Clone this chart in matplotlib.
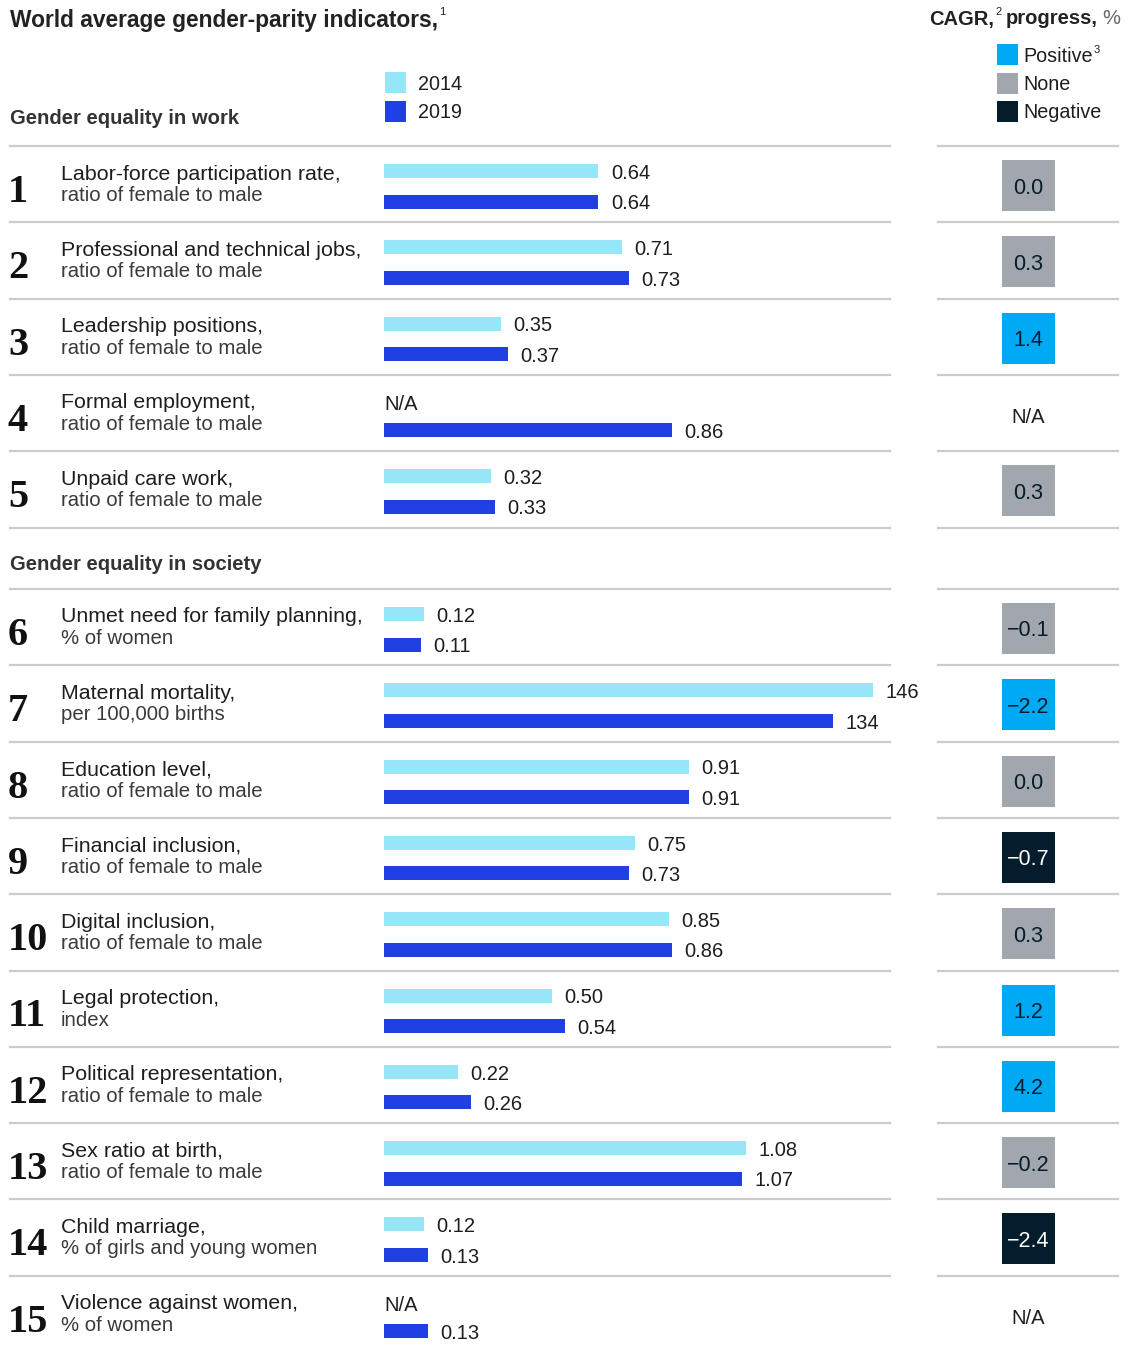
import matplotlib
matplotlib.use("Agg")
import matplotlib.pyplot as plt
from matplotlib.patches import Rectangle

# ---- data ----
titles = ["Labor-force participation rate,", "Professional and technical jobs,",
          "Leadership positions,", "Formal employment,", "Unpaid care work,",
          "Unmet need for family planning,", "Maternal mortality,", "Education level,",
          "Financial inclusion,", "Digital inclusion,", "Legal protection,",
          "Political representation,", "Sex ratio at birth,", "Child marriage,",
          "Violence against women,"]
units = ["ratio of female to male"] * 5 + ["% of women", "per 100,000 births"] + \
        ["ratio of female to male"] * 3 + ["index"] + ["ratio of female to male"] * 2 + \
        ["% of girls and young women", "% of women"]
v2014 = [0.64, 0.71, 0.35, None, 0.32, 0.12, 146, 0.91, 0.75, 0.85, 0.50, 0.22, 1.08, 0.12, None]
v2019 = [0.64, 0.73, 0.37, 0.86, 0.33, 0.11, 134, 0.91, 0.73, 0.86, 0.54, 0.26, 1.07, 0.13, 0.13]
# maternal mortality drawn per 100 births so it fits the shared scale
bar_scale = [1, 1, 1, 1, 1, 1, 0.01, 1, 1, 1, 1, 1, 1, 1, 1]
cagr = [0.0, 0.3, 1.4, None, 0.3, -0.1, -2.2, 0.0, -0.7, 0.3, 1.2, 4.2, -0.2, -2.4, None]
progress = ["None", "None", "Positive", None, "None", "None", "Positive", "None",
            "Negative", "None", "Positive", "Positive", "None", "Negative", None]
sections = ["Gender equality in work", "Gender equality in society"]

# ---- style ----
C14 = "#96E6F7"
C19 = "#2140E3"
PCOL = {"Positive": "#00A9F4", "None": "#A2A7AE", "Negative": "#051C2C"}
TXT = "#1E1E1E"
GRID = "#CCCCCC"
SANS = "Liberation Sans"
SERIF = "Liberation Serif"

W, H = 1130, 1346
fig = plt.figure(figsize=(W / 100, H / 100), dpi=100)
ov = fig.add_axes([0, 0, 1, 1])
ov.set_xlim(0, W)
ov.set_ylim(H, 0)
ov.axis("off")

bx = fig.add_axes([384 / W, 0, (890 - 384) / W, 1])
bx.set_xlim(0, 506 / 335)
bx.set_ylim(H, 0)
bx.axis("off")

pitch = 76.3
tops = [146 + pitch * i for i in range(5)] + [589 + pitch * i for i in range(10)]

def hline(y):
    ov.plot([10, 890], [y, y], color=GRID, lw=1.6)
    ov.plot([938, 1118], [y, y], color=GRID, lw=1.6)

def sup(artist, s, y):
    # small superscript placed right after a text artist
    return ov.annotate(s, xy=(1, y), xycoords=(artist, ov.transData), xytext=(1, 0),
                       textcoords="offset points", fontsize=8, family=SANS, color=TXT,
                       va="center", ha="left")

# header
t = ov.text(10, 20, "World average gender-parity indicators,", fontsize=16.4, fontweight="bold",
            family=SANS, color="#222222", va="center")
sup(t, "1", 12)

t = ov.text(929, 19, "CAGR,", fontsize=14.5, fontweight="bold", family=SANS,
            color="#222222", va="center")
s = sup(t, "2", 12)
t = ov.annotate("progress,", xy=(1, 19), xycoords=(s, ov.transData), xytext=(3, 0),
                textcoords="offset points", fontsize=14.5, fontweight="bold", family=SANS,
                color="#222222", va="center")
ov.annotate("%", xy=(1, 19), xycoords=(t, ov.transData), xytext=(3, 0),
            textcoords="offset points", fontsize=14.5, family=SANS, color="#666666", va="center")

for i, (lab, col) in enumerate(zip(["2014", "2019"], [C14, C19])):
    ov.add_patch(Rectangle((385, 72 + 28.5 * i), 21, 21, color=col, lw=0))
    ov.text(418, 84 + 28.5 * i, lab, fontsize=14.2, family=SANS, color=TXT, va="center")

for i, k in enumerate(["Positive", "None", "Negative"]):
    ov.add_patch(Rectangle((997, 44 + 28.5 * i), 21, 21, color=PCOL[k], lw=0))
    t = ov.text(1023, 56 + 28.5 * i, k, fontsize=14.2, family=SANS, color=TXT, va="center")
    if k == "Positive":
        sup(t, "3", 50)

ov.text(10, 118, sections[0], fontsize=14.6, fontweight="bold", family=SANS, color="#333333", va="center")
ov.text(10, 564, sections[1], fontsize=14.6, fontweight="bold", family=SANS, color="#333333", va="center")

for t in tops:
    hline(t)
hline(tops[4] + pitch)

for i, t in enumerate(tops):
    ov.text(8, t + 56, str(i + 1), fontsize=29, fontweight="bold", family=SERIF,
            color="#111111", va="baseline")
    ov.text(61, t + 28, titles[i], fontsize=15.4, family=SANS, color=TXT, va="center")
    ov.text(61, t + 49.5, units[i], fontsize=14.7, family=SANS, color="#3a3a3a", va="center")

    for val, yy, col in [(v2014[i], t + 25, C14), (v2019[i], t + 55.5, C19)]:
        if val is None:
            ov.text(384, t + 30, "N/A", fontsize=14.5, family=SANS, color=TXT, va="center")
            continue
        w = val * bar_scale[i]
        bx.barh(yy, w, height=14, left=0, color=col, lw=0)
        s = f"{val:.0f}" if val >= 10 else f"{val:.2f}"
        bx.annotate(s, xy=(w, yy), xytext=(9, -1.6), textcoords="offset points",
                    fontsize=14.5, family=SANS, color=TXT, va="center", ha="left")

    if cagr[i] is None:
        ov.text(1028, t + 43, "N/A", fontsize=14.5, family=SANS, color=TXT, va="center", ha="center")
    else:
        ov.add_patch(Rectangle((1002, t + 14), 53, 51, color=PCOL[progress[i]], lw=0))
        s = f"{cagr[i]:.1f}".replace("-", "\u2212")
        tc = "white" if progress[i] == "Negative" else "#051C2C"
        ov.text(1028.5, t + 42, s, fontsize=15.5, family=SANS, color=tc, va="center", ha="center")

fig.savefig("out.png", dpi=100)
